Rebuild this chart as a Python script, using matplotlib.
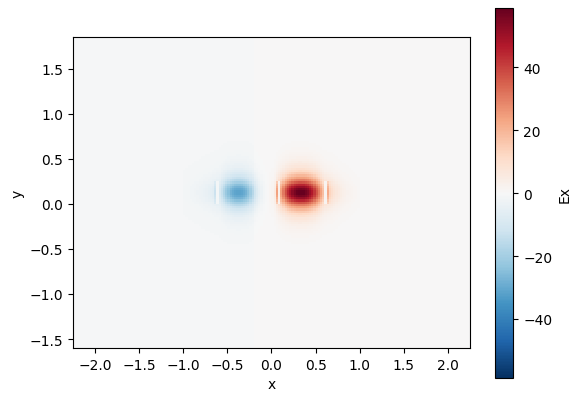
import numpy as np
import matplotlib
matplotlib.use('Agg')
import matplotlib.pyplot as plt

'''field data read off the picture'''
# colour scale limits of Ex
ex_min, ex_max = -58.8, 58.8

# x cells (width 0.025) across the mode region, centres from -0.9875 to 0.9875
x_edges = np.linspace(-1.0, 1.0, 81)
# Ex along the core rows (with the thin gap stripes)
ex_core = [-0.7, -0.8, -1.0, -1.2, -1.4, -1.7, -2.0, -2.4, -2.8, -3.3,
           -3.8, -4.4, -5.0, -6.0, -12, -1, -9, -13, -17, -21,
           -24, -27, -29, -30.5, -31, -31, -30.5, -29, -27, -24,
           -20, -16, -12, -8.5, -5.5, -3.5, -2, -1, 0, 1,
           2, 5, 24, 3, 24, 31, 38, 44, 49, 53,
           56, 58, 58.8, 58.8, 58.5, 57, 55, 51, 47, 42,
           36, 30, 24, 18, 2, 22, 13, 10, 8, 6.5,
           5.2, 4.2, 3.4, 2.8, 2.2, 1.8, 1.4, 1.1, 0.9, 0.7]
# Ex along the rows above / below the core (smooth)
ex_clad = [-0.7, -0.8, -1.0, -1.2, -1.4, -1.7, -2.0, -2.4, -2.8, -3.3,
           -3.8, -4.4, -5.0, -6.0, -6.8, -7.8, -9, -13, -17, -21,
           -24, -27, -29, -30.5, -31, -31, -30.5, -29, -27, -24,
           -20, -16, -12, -8.5, -5.5, -3.5, -2, -1, 0, 1,
           2, 5, 12, 18, 24, 31, 38, 44, 49, 53,
           56, 58, 58.8, 58.8, 58.5, 57, 55, 51, 47, 42,
           36, 30, 24, 18, 14, 12, 11, 10, 8, 6.5,
           5.2, 4.2, 3.4, 2.8, 2.2, 1.8, 1.4, 1.1, 0.9, 0.7]

# y cells (height 0.025), centres from -0.4875 to 0.7375
y_edges = np.linspace(-0.5, 0.75, 51)
y_weight = [0.0025, 0.0035, 0.005, 0.007, 0.01, 0.014, 0.019, 0.026, 0.034, 0.045,
            0.058, 0.075, 0.095, 0.12, 0.155, 0.2, 0.26, 0.33, 0.41, 0.51,
            0.63, 0.76, 0.87, 0.95, 0.995, 0.995, 0.95, 0.87, 0.76, 0.63,
            0.51, 0.41, 0.33, 0.26, 0.2, 0.155, 0.12, 0.095, 0.075, 0.058,
            0.045, 0.034, 0.026, 0.019, 0.014, 0.01, 0.007, 0.005, 0.0035, 0.0025]
core_y = (0.0, 0.25)

# faint background level left / right of x = -0.2
bg_split = -0.2
bg_left, bg_right = -0.8, 0.2

# domain
x_lim = (-2.25, 2.25)
y_lim = (-1.6, 1.85)

'''build the field'''
xc = 0.5 * (x_edges[:-1] + x_edges[1:])
yc = 0.5 * (y_edges[:-1] + y_edges[1:])
in_core = (yc > core_y[0]) & (yc < core_y[1])
rows = np.where(in_core[:, None], np.array(ex_core)[None, :], np.array(ex_clad)[None, :])
bg_row = np.where(xc < bg_split, bg_left, bg_right)
field = np.array(y_weight)[:, None] * rows + bg_row[None, :]

bg_x = [x_lim[0], bg_split, x_lim[1]]
bg_y = [y_lim[0], y_lim[1]]
bg_field = np.array([[bg_left, bg_right]])

'''plot'''
fig = plt.figure(figsize=(5.81, 4.02), dpi=100)
ax = fig.add_axes([0.1256, 0.1318, 0.6833, 0.7736])
cax = fig.add_axes([0.8525, 0.0572, 0.031, 0.9197])

ax.pcolormesh(bg_x, bg_y, bg_field, cmap='RdBu_r', vmin=ex_min, vmax=ex_max)
mesh = ax.pcolormesh(x_edges, y_edges, field, cmap='RdBu_r', vmin=ex_min, vmax=ex_max,
                     shading='flat', antialiased=False)
ax.set_xlim(x_lim)
ax.set_ylim(y_lim)
ax.set_xticks([-2.0, -1.5, -1.0, -0.5, 0.0, 0.5, 1.0, 1.5, 2.0])
ax.set_yticks([-1.5, -1.0, -0.5, 0.0, 0.5, 1.0, 1.5])
ax.set_xlabel('x')
ax.set_ylabel('y')

cb = fig.colorbar(mesh, cax=cax)
cb.set_ticks([-40, -20, 0, 20, 40])
cb.set_label('Ex')

fig.savefig('out.png', dpi=100)
